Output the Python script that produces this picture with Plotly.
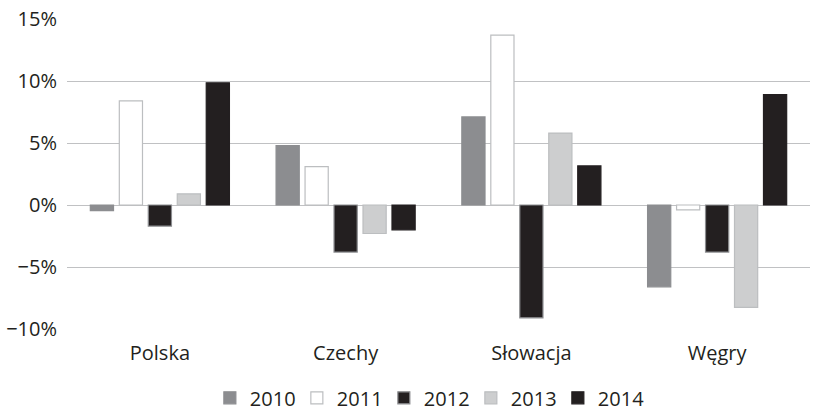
import plotly.graph_objects as go

categories = ["Polska", "Czechy", "Słowacja", "Węgry"]
years = ["2010", "2011", "2012", "2013", "2014"]
v2010 = [-0.45, 4.8, 7.1, -6.6]
v2011 = [8.4, 3.1, 13.7, -0.4]
v2012 = [-1.7, -3.8, -9.1, -3.8]
v2013 = [0.9, -2.3, 5.8, -8.25]
v2014 = [9.85, -2.0, 3.15, 8.9]
series = [v2010, v2011, v2012, v2013, v2014]
tick_vals = [-10, -5, 0, 5, 10, 15]
tick_text = ["\u221210%", "\u22125%", "0%", "5%", "10%", "15%"]

fills = ["#8c8d90", "#ffffff", "#231f20", "#cdcecf", "#231f20"]
lines = ["#8c8d90", "#bcbec0", "#8c8d90", "#bcbec0", "#231f20"]

fig = go.Figure()
for name, vals, fc, lc in zip(years, series, fills, lines):
    fig.add_trace(go.Bar(
        x=categories, y=vals, name=name,
        marker=dict(color=fc, line=dict(color=lc, width=1.2)),
    ))

fs = 20
fig.update_layout(
    width=813, height=411,
    margin=dict(l=67, r=3, t=19, b=82, autoexpand=False),
    paper_bgcolor="white", plot_bgcolor="white",
    font=dict(family="Open Sans", size=fs, color="#231f20"),
    barmode="group", bargap=0.22, bargroupgap=0.2,
    showlegend=True,
    legend=dict(orientation="h", x=0.485, xanchor="center", y=-0.222, yanchor="middle",
                itemwidth=30, font=dict(size=fs), traceorder="normal",
                entrywidth=42),
    xaxis=dict(showgrid=False, ticks="", showline=False, zeroline=False,
               tickfont=dict(size=fs), ticklabelstandoff=10),
    yaxis=dict(range=[-10, 15], tickvals=tick_vals, ticktext=tick_text,
               showgrid=True, gridcolor="#c0c1c3", gridwidth=1.3,
               zeroline=False, showline=False, ticks="", ticklen=0,
               tickfont=dict(size=fs), ticklabelstandoff=9),
)

fig.write_html("out.html", config={"displayModeBar": False},
               post_script="document.body.style.margin='0';document.body.style.overflow='hidden';")
